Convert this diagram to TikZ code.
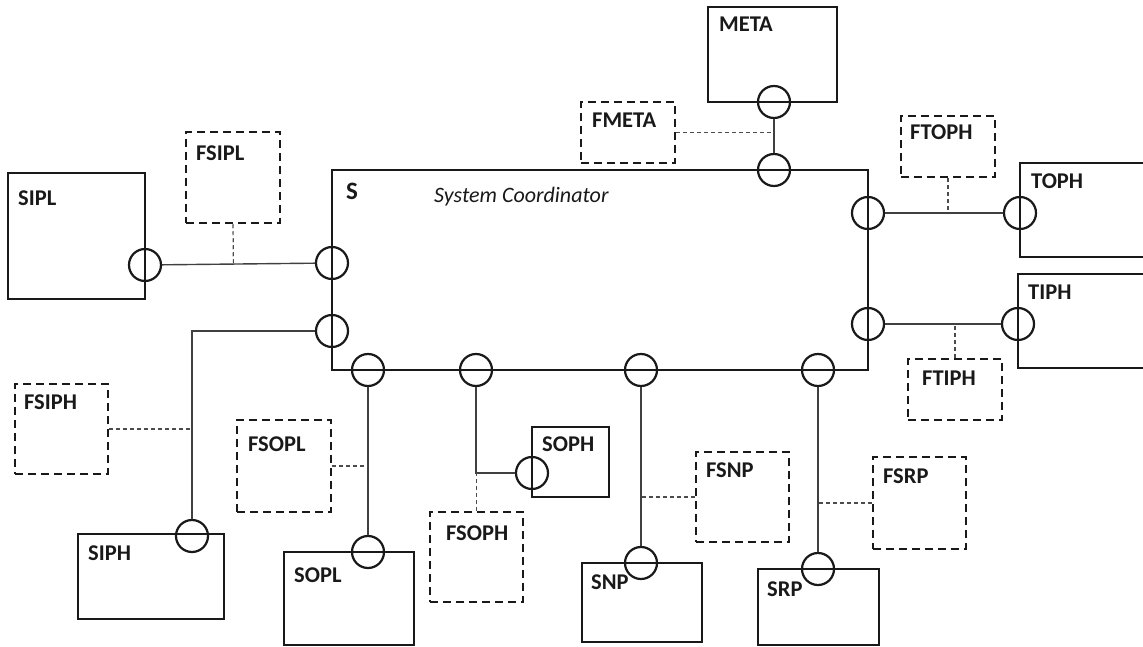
\documentclass[tikz,border=0pt]{standalone}
\usepackage{fontspec}
\setmainfont{Carlito}
\usetikzlibrary{fit,calc}

\tikzset{
  box/.style={draw=black!90, line width=2.6pt, inner sep=0pt},
  fbox/.style={draw=black!90, line width=2.5pt, inner sep=0pt, dash pattern=on 8pt off 5pt},
  port/.style={draw=black!90, circle, line width=2.2pt, minimum size=32pt, inner sep=0pt},
  wire/.style={draw=black!75, line width=1.4pt},
  tap/.style={draw=black!70, line width=1.2pt, dash pattern=on 4pt off 3pt},
  lbl/.style={inner sep=0pt, anchor=base west, text=black!90, font=\fontsize{22.5}{26}\selectfont\bfseries},
}

\begin{document}
\begin{tikzpicture}[x=1pt, y=-1pt]
\clip (0,0) rectangle (1143,647);
\fill[white] (0,0) rectangle (1143,647);

% system coordinator
\node[box, fit={(332,170) (868,370)}] (S) {};
\node[lbl, font=\fontsize{25}{29}\selectfont\bfseries] (lS) at (346,200) {S};
\node[lbl, font=\fontsize{22}{26}\selectfont\itshape] (lSC) at (434,203) {System Coordinator};

% subsystems
\node[box, fit={(8,173) (145,299)}] (SIPL) {};
\node[box, fit={(708,7) (837,102)}] (META) {};
\node[box, fit={(1020,163) (1170,257)}] (TOPH) {};
\node[box, fit={(1018,274) (1170,368)}] (TIPH) {};
\node[box, fit={(78,534) (224,619)}] (SIPH) {};
\node[box, fit={(284,552) (414,645)}] (SOPL) {};
\node[box, fit={(532,427) (609,497)}] (SOPH) {};
\node[box, fit={(582,563) (702,642)}] (SNP) {};
\node[box, fit={(758,569) (879,645)}] (SRP) {};

% functional boxes
\node[fbox, fit={(186,132) (280,223)}] (FSIPL) {};
\node[fbox, fit={(581,102) (675,163)}] (FMETA) {};
\node[fbox, fit={(901,116) (995,177)}] (FTOPH) {};
\node[fbox, fit={(908,359) (1002,420)}] (FTIPH) {};
\node[fbox, fit={(15,384) (108,474)}] (FSIPH) {};
\node[fbox, fit={(237,420) (331,512)}] (FSOPL) {};
\node[fbox, fit={(430,512) (523,602)}] (FSOPH) {};
\node[fbox, fit={(696,452) (789,542)}] (FSNP) {};
\node[fbox, fit={(873,457) (966,549)}] (FSRP) {};

% labels
\node[lbl] (lSIPL) at (18,206) {SIPL};
\node[lbl] (lFSIPL) at (196,161) {FSIPL};
\node[lbl] (lMETA) at (719,32) {META};
\node[lbl] (lFMETA) at (592,128) {FMETA};
\node[lbl] (lTOPH) at (1031,189) {TOPH};
\node[lbl] (lFTOPH) at (910,140) {FTOPH};
\node[lbl] (lTIPH) at (1028,299) {TIPH};
\node[lbl] (lFTIPH) at (922,385) {FTIPH};
\node[lbl] (lFSIPH) at (24,409) {FSIPH};
\node[lbl] (lSIPH) at (88,560) {SIPH};
\node[lbl] (lFSOPL) at (248,451) {FSOPL};
\node[lbl] (lSOPL) at (294,582) {SOPL};
\node[lbl] (lSOPH) at (542,451) {SOPH};
\node[lbl] (lFSOPH) at (446,540) {FSOPH};
\node[lbl] (lFSNP) at (706,477) {FSNP};
\node[lbl] (lSNP) at (591,589) {SNP};
\node[lbl] (lSRP) at (767,596) {SRP};
\node[lbl] (lFSRP) at (883,483) {FSRP};

% ports
\node[port] (pSIPL) at (145,265) {};
\node[port] (pSa) at (332,263) {};
\node[port] (pSb) at (332,331) {};
\node[port] (pSc) at (368,370) {};
\node[port] (pSd) at (476,370) {};
\node[port] (pSe) at (641,370) {};
\node[port] (pSf) at (818,370) {};
\node[port] (pSg) at (774,170) {};
\node[port] (pSh) at (868,213) {};
\node[port] (pSi) at (868,324) {};
\node[port] (pMETA) at (774,102) {};
\node[port] (pTOPH) at (1020,213) {};
\node[port] (pTIPH) at (1018,324) {};
\node[port] (pSIPH) at (192,536) {};
\node[port] (pSOPL) at (368,552) {};
\node[port] (pSOPH) at (532,473) {};
\node[port] (pSNP) at (641,563) {};
\node[port] (pSRP) at (818,569) {};

% links
\draw[wire] (pSIPL) -- (pSa);
\draw[wire] (pMETA) -- (pSg);
\draw[wire] (pSh) -- (pTOPH);
\draw[wire] (pSi) -- (pTIPH);
\draw[wire] (pSb) -| (pSIPH);
\draw[wire] (pSc) -- (pSOPL);
\draw[wire] (pSd) |- (pSOPH);
\draw[wire] (pSe) -- (pSNP);
\draw[wire] (pSf) -- (pSRP);

% function taps
\draw[tap] (FSIPL.south) -- ($(pSIPL)!(FSIPL.south)!(pSa)$);
\draw[tap] (FMETA.east) -- (FMETA.east -| pSg);
\draw[tap] (FTOPH.south) -- (FTOPH.south |- pSh);
\draw[tap] (FTIPH.north) -- (FTIPH.north |- pSi);
\draw[tap] (FSIPH.east) -- (FSIPH.east -| pSIPH);
\draw[tap] (FSOPL.east) -- (FSOPL.east -| pSc);
\draw[tap] (FSOPH.north) -- (FSOPH.north |- pSOPH);
\draw[tap] (FSNP.west) -- (FSNP.west -| pSe);
\draw[tap] (FSRP.west) -- (FSRP.west -| pSf);
\end{tikzpicture}
\end{document}
